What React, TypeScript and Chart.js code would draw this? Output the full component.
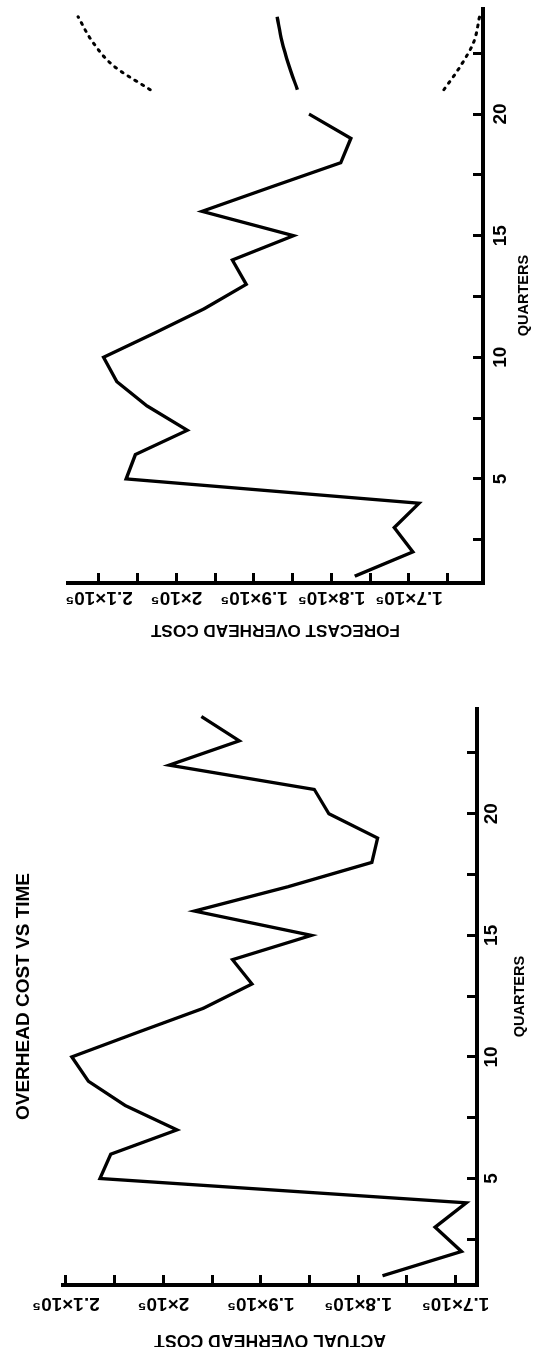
import { useEffect, useRef } from "react";
import { Chart, registerables } from "chart.js";

Chart.register(...registerables);

// ---- data (cost in dollars, quarters 1..24) ----
const quarters = [1, 2, 3, 4, 5, 6, 7, 8, 9, 10, 11, 12, 13, 14, 15, 16, 17, 18, 19, 20, 21, 22, 23, 24];
const actualCost = [
  177500, 169400, 172100, 168900, 206500, 205400, 198600, 203900, 207700, 209400, 202700, 195900,
  190900, 192900, 184800, 196800, 187200, 178600, 178000, 183000, 184500, 199400, 192200, 196100,
];
const forecastQuarters = [1, 2, 3, 4, 5, 6, 7, 8, 9, 10, 11, 12, 13, 14, 15, 16, 17, 18, 19, 20];
const forecastCost = [
  177000, 169500, 171900, 168700, 206500, 205300, 198600, 203800, 207700, 209400, 202800, 196400,
  191000, 192800, 184900, 196700, 187800, 178800, 177500, 182900,
];
const extensionQuarters = [21, 22, 23, 24];
const forecastTrend = [184400, 185500, 186400, 187000];
const upperBound = [203400, 208200, 210900, 212700];
const lowerBound = [165500, 163300, 161600, 160900];

const quarterTicks = [2.5, 5, 7.5, 10, 12.5, 15, 17.5, 20, 22.5];
const actualCostTicks = [170000, 175000, 180000, 185000, 190000, 195000, 200000, 205000, 210000];
const forecastCostTicks = [165000, 170000, 175000, 180000, 185000, 190000, 195000, 200000, 205000, 210000];

const SANS = '"Liberation Sans", Arial, sans-serif';
const TICK_SIZE = 19;
const LINE_W = 3.3;

const costLabel = (v: number) => (v % 10000 === 0 ? `${+(v / 1e5).toFixed(2)}×10⁵` : "");
const quarterLabel = (v: number) => (v % 5 === 0 ? String(v) : "");

function widest(labels: string[]) {
  const ctx = document.createElement("canvas").getContext("2d")!;
  ctx.font = `bold ${TICK_SIZE}px ${SANS}`;
  return Math.max(...labels.map((l) => ctx.measureText(l).width));
}

const pts = (xs: number[], ys: number[]) => xs.map((x, i) => ({ x, y: ys[i] }));

interface Geo {
  padRight: number;
  padTop: number;
  yWidth: number;
  xHeight: number;
  xMin: number;
  xMax: number;
  yMin: number;
  yMax: number;
  costTicks: number[];
  yLabelPad: number;
  yTitleSize: number;
  yTitlePad: number;
  xLabelPad: number;
  xTitlePad: number;
  yTitle: string;
  title?: string;
}

function makeOptions(g: Geo): any {
  const W = widest(g.costTicks.map(costLabel));
  return {
    animation: false,
    responsive: false,
    events: [],
    layout: { padding: { left: 0, right: g.padRight, top: g.padTop, bottom: 0 } },
    plugins: {
      legend: { display: false },
      tooltip: { enabled: false },
      title: g.title
        ? {
            display: true,
            fullSize: false,
            text: g.title,
            color: "#000",
            font: { family: SANS, size: 19, weight: "bold", lineHeight: 1.2 },
            padding: { top: 12.6, bottom: 27.6 },
          }
        : { display: false },
    },
    scales: {
      x: {
        type: "linear",
        position: "bottom",
        min: g.xMin,
        max: g.xMax,
        afterBuildTicks: (s: any) => {
          s.ticks = quarterTicks.map((value) => ({ value }));
        },
        afterFit: (s: any) => {
          s.height = g.xHeight;
        },
        grid: { display: true, drawOnChartArea: false, drawTicks: true, tickLength: -10, tickWidth: 3, tickColor: "#000" },
        border: { display: true, color: "#000", width: 4 },
        ticks: {
          autoSkip: false,
          minRotation: 0,
          maxRotation: 0,
          padding: g.xLabelPad,
          color: "#000",
          font: { family: SANS, size: TICK_SIZE, weight: "bold", lineHeight: 1.2 },
          callback: (v: number) => quarterLabel(v),
        },
        title: {
          display: true,
          text: "QUARTERS",
          color: "#000",
          font: { family: SANS, size: 14.5, weight: "bold", lineHeight: 1.2 },
          padding: { top: 0, bottom: g.xTitlePad },
        },
      },
      y: {
        type: "linear",
        position: "left",
        min: g.yMin,
        max: g.yMax,
        afterBuildTicks: (s: any) => {
          s.ticks = g.costTicks.map((value) => ({ value }));
        },
        afterFit: (s: any) => {
          s.width = g.yWidth;
        },
        grid: { display: true, drawOnChartArea: false, drawTicks: true, tickLength: -10, tickWidth: 3, tickColor: "#000" },
        border: { display: true, color: "#000", width: 4 },
        ticks: {
          autoSkip: false,
          minRotation: 90,
          maxRotation: 90,
          crossAlign: "center",
          padding: g.yLabelPad - W / 2,
          color: "#000",
          font: { family: SANS, size: TICK_SIZE, weight: "bold", lineHeight: 1.2 },
          callback: (v: number) => costLabel(v),
        },
        title: {
          display: true,
          text: g.yTitle,
          color: "#000",
          font: { family: SANS, size: g.yTitleSize, weight: "bold", lineHeight: 1 },
          padding: { top: g.yTitlePad, bottom: 0 },
        },
      },
    },
  };
}

const solid = (data: any) => ({
  data,
  borderColor: "#000",
  borderWidth: LINE_W,
  pointRadius: 0,
  tension: 0,
  fill: false,
});

export default function App() {
  const actualRef = useRef<HTMLCanvasElement>(null);
  const forecastRef = useRef<HTMLCanvasElement>(null);

  useEffect(() => {
    const actual = new Chart(actualRef.current!, {
      type: "line",
      data: { datasets: [solid(pts(quarters, actualCost))] },
      options: makeOptions({
        padRight: 55,
        padTop: 0,
        yWidth: 62,
        xHeight: 63,
        xMin: 0.62,
        xMax: 24.35,
        yMin: 167800,
        yMax: 210300,
        costTicks: actualCostTicks,
        yLabelPad: 28,
        yTitleSize: 17.7,
        yTitlePad: -1.85,
        xLabelPad: 13.6,
        xTitlePad: 11.3,
        yTitle: "ACTUAL OVERHEAD COST",
        title: "OVERHEAD COST VS TIME",
      }),
    } as any);

    const dashed = (data: any) => ({
      ...solid(data),
      borderWidth: 3,
      borderDash: [2, 6],
      borderCapStyle: "round",
      cubicInterpolationMode: "monotone",
    });

    const forecast = new Chart(forecastRef.current!, {
      type: "line",
      data: {
        datasets: [
          solid(pts(forecastQuarters, forecastCost)),
          { ...solid(pts(extensionQuarters, forecastTrend)), cubicInterpolationMode: "monotone" },
          dashed(pts(extensionQuarters, upperBound)),
          dashed(pts(extensionQuarters, lowerBound)),
        ],
      },
      options: makeOptions({
        padRight: 8,
        padTop: 68,
        yWidth: 70,
        xHeight: 57,
        xMin: 0.72,
        xMax: 24.36,
        yMin: 160450,
        yMax: 214000,
        costTicks: forecastCostTicks,
        yLabelPad: 24.5,
        yTitleSize: 17.2,
        yTitlePad: 14.9,
        xLabelPad: 16.6,
        xTitlePad: 7.8,
        yTitle: "FORECAST OVERHEAD COST",
      }),
    } as any);

    return () => {
      actual.destroy();
      forecast.destroy();
    };
  }, []);

  return (
    <div
      style={{
        position: "fixed",
        left: 0,
        top: 0,
        width: 540,
        height: 1347,
        overflow: "hidden",
        background: "#fff",
      }}
    >
      <div
        style={{
          position: "absolute",
          left: 0,
          top: 0,
          width: 1347,
          height: 540,
          transformOrigin: "0 0",
          transform: "translate(0px, 1347px) rotate(-90deg)",
        }}
      >
        <canvas ref={actualRef} width={694} height={540} style={{ position: "absolute", left: 0, top: 0 }} />
        <canvas ref={forecastRef} width={653} height={540} style={{ position: "absolute", left: 694, top: 0 }} />
      </div>
    </div>
  );
}
